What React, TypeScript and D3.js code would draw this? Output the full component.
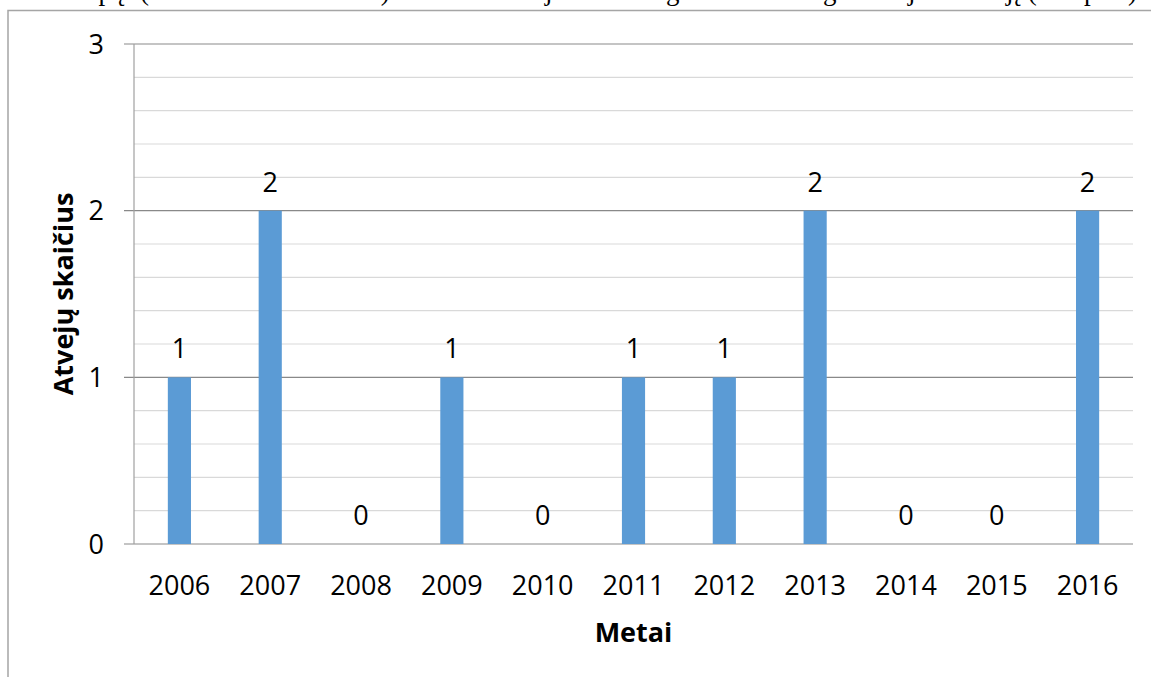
import React from "react";
import * as d3 from "d3";

const years = ["2006", "2007", "2008", "2009", "2010", "2011", "2012", "2013", "2014", "2015", "2016"];
const cases = [1, 2, 0, 1, 0, 1, 1, 2, 0, 0, 2];
const yTickLabels = [0, 1, 2, 3];
const yTitle = "Atvejų skaičius";
const xTitle = "Metai";
// fragments of the clipped sentence above the chart (only descenders visible)
const headerFragments = [
  { x: 16, t: "laikotarpą" },
  { x: 140, t: "(nuo 2006 iki 2016 m.)" },
  { x: 500, t: "atvejai" },
  { x: 645, t: "registruoti" },
  { x: 808, t: "ligos" },
  { x: 908, t: "jie" },
  { x: 1006, t: "jį (1–2 pav.)" },
];

const W = 1151;
const H = 677;
const left = 134;
const right = 1133;
const top = 44;
const bottom = 544;
const font = "'Open Sans', 'Noto Sans', sans-serif";
const fs = 27;

export default function App() {
  const x = d3
    .scaleBand<string>()
    .domain(years)
    .range([left, right])
    .paddingInner(0.745)
    .paddingOuter(0.3725);
  const y = d3.scaleLinear().domain([0, 3]).range([bottom, top]);
  const minor = d3.range(0, 16).map((i) => i * 0.2);

  return (
    <svg
      width={W}
      height={H}
      style={{ position: "absolute", left: 0, top: 0, background: "#fff" }}
    >
      <text fontFamily="'Liberation Serif', 'Times New Roman', serif" fontSize={27} y={0} fill="#000">
        {headerFragments.map((f, i) => (
          <tspan key={i} x={f.x}>
            {f.t}
          </tspan>
        ))}
      </text>
      {/* chart frame */}
      <path d={`M8,${H + 5} V10.5 H${W + 5}`} fill="none" stroke="#a5a5a5" strokeWidth={1.5} />

      {/* minor gridlines */}
      {minor.map((v, i) => {
        const isMajor = Math.abs(v - Math.round(v)) < 1e-6;
        if (isMajor) return null;
        return (
          <line key={"m" + i} x1={left} x2={right} y1={y(v)} y2={y(v)} stroke="#d9d9d9" strokeWidth={1.2} />
        );
      })}
      {/* major gridlines */}
      {yTickLabels.map((v) => (
        <line key={"g" + v} x1={left - 10} x2={right} y1={y(v)} y2={y(v)} stroke="#898989" strokeWidth={1.2} />
      ))}
      {/* y axis */}
      <line x1={left} x2={left} y1={top} y2={bottom} stroke="#a0a0a0" strokeWidth={1.2} />

      {/* bars */}
      {years.map((yr, i) => (
        <rect
          key={yr}
          x={x(yr)}
          width={x.bandwidth()}
          y={y(cases[i])}
          height={y(0) - y(cases[i])}
          fill="#5b9bd5"
        />
      ))}
      {/* value labels */}
      {years.map((yr, i) => (
        <text
          key={"l" + yr}
          x={(x(yr) as number) + x.bandwidth() / 2}
          y={y(cases[i]) - 19}
          textAnchor="middle"
          fontFamily={font}
          fontSize={fs}
          fill="#000"
        >
          {cases[i]}
        </text>
      ))}

      {/* y tick labels */}
      {yTickLabels.map((v) => (
        <text
          key={"yt" + v}
          x={104}
          y={y(v) + 9.5}
          textAnchor="end"
          fontFamily={font}
          fontSize={fs}
          fill="#000"
        >
          {v}
        </text>
      ))}
      {/* x tick labels */}
      {years.map((yr) => (
        <text
          key={"xt" + yr}
          x={(x(yr) as number) + x.bandwidth() / 2}
          y={595}
          textAnchor="middle"
          fontFamily={font}
          fontSize={fs}
          fill="#000"
        >
          {yr}
        </text>
      ))}

      {/* axis titles */}
      <text
        x={(left + right) / 2}
        y={642}
        textAnchor="middle"
        fontFamily={font}
        fontSize={fs}
        fontWeight="bold"
        fill="#000"
      >
        {xTitle}
      </text>
      <text
        transform={`translate(73, ${(top + bottom) / 2}) rotate(-90)`}
        textAnchor="middle"
        fontFamily={font}
        fontSize={fs}
        fontWeight="bold"
        fill="#000"
      >
        {yTitle}
      </text>
    </svg>
  );
}
